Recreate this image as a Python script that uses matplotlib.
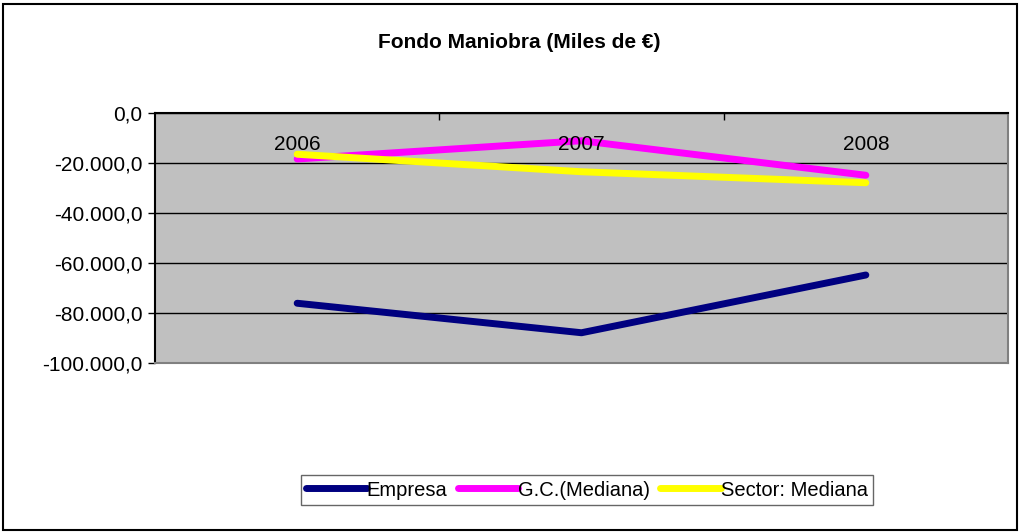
import matplotlib.pyplot as plt
from matplotlib.patches import Rectangle
from matplotlib.ticker import FuncFormatter

years = ["2006", "2007", "2008"]
empresa = [-76100, -87900, -64800]
gc_mediana = [-18400, -11100, -24900]
sector_mediana = [-16500, -23500, -27900]

plt.rcParams["font.family"] = ["Liberation Sans", "DejaVu Sans"]

fig = plt.figure(figsize=(10.2, 5.32), dpi=100)
ax = fig.add_axes([155 / 1020, 1 - 363 / 532, 853 / 1020, 250 / 532])
ax.set_facecolor("#c0c0c0")

x = range(len(years))
ax.plot(x, empresa, color="#000080", lw=5, solid_capstyle="round", label="Empresa")
ax.plot(x, gc_mediana, color="#ff00ff", lw=5, solid_capstyle="round", label="G.C.(Mediana)")
ax.plot(x, sector_mediana, color="#ffff00", lw=5, solid_capstyle="round", label="Sector: Mediana")

ax.set_xlim(-0.5, 2.5)
ax.set_ylim(-100000, 0)
ax.set_yticks(range(-100000, 1, 20000))
ax.yaxis.set_major_formatter(FuncFormatter(
    lambda v, p: "{:,.1f}".format(v).replace(",", "X").replace(".", ",").replace("X", ".")))
ax.grid(axis="y", color="black", lw=1)
ax.set_axisbelow(True)

# category axis sits at y=0 (top), labels drawn inside the plot
ax.xaxis.set_ticks_position("top")
ax.set_xticks([0.5, 1.5])
ax.set_xticklabels([])
ax.tick_params(axis="x", direction="in", length=5, width=1)
for i, yr in enumerate(years):
    ax.text(i, -12500, yr, ha="center", va="center", fontsize=15)

ax.tick_params(axis="y", direction="out", length=5, width=1, labelsize=15, pad=4)
ax.spines["top"].set_color("black")
ax.spines["left"].set_color("black")
ax.spines["bottom"].set_color("#808080")
ax.spines["right"].set_color("#808080")
for s in ax.spines.values():
    s.set_linewidth(1.5)

fig.text(0.509, 1 - 42 / 532, "Fondo Maniobra (Miles de €)", ha="center", va="center",
         fontsize=15, fontweight="bold")

leg = fig.legend(loc="center", bbox_to_anchor=(587 / 1020, 1 - 490 / 532), ncol=3,
                 fontsize=14.5, frameon=True, fancybox=False, edgecolor="#404040",
                 handlelength=3.0, handletextpad=0.0, columnspacing=0.5,
                 borderpad=0.25, borderaxespad=0)
leg.get_frame().set_linewidth(1)

fig.patches.append(Rectangle((3 / 1020, 2 / 532), 1014 / 1020, 526 / 532, fill=False,
                             edgecolor="black", lw=1.5, transform=fig.transFigure))

fig.savefig("out.png", dpi=100)
